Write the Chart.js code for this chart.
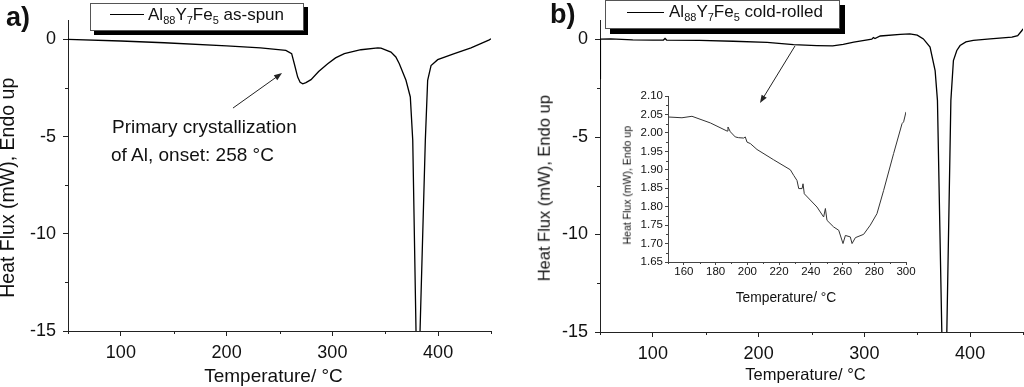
<!DOCTYPE html>
<html><head><meta charset="utf-8">
<script src="https://cdn.jsdelivr.net/npm/chart.js@4.4.1/dist/chart.umd.min.js"></script>
<style>
html,body{margin:0;padding:0;background:#fff;}
#wrap{position:relative;width:1024px;height:387px;overflow:hidden;background:#fff;font-family:"Liberation Sans",Arial,sans-serif;color:#111;}
canvas{position:absolute;}
.t{position:absolute;white-space:nowrap;}
.leg{position:absolute;border:1px solid #555;background:#fff;box-sizing:border-box;}
.leg .ln{position:absolute;height:0;border-top:1.3px solid #000;}
.leg .tx{position:absolute;font-size:17px;line-height:20px;white-space:nowrap;}
.leg sub{font-size:11px;vertical-align:baseline;position:relative;top:4px;}
.rot{position:absolute;transform:rotate(-90deg);text-align:center;white-space:nowrap;}
.ctr{position:absolute;text-align:center;white-space:nowrap;}
</style></head>
<body><div id="wrap">
<canvas id="ca" width="512" height="387" style="left:0;top:0"></canvas>
<canvas id="cb" width="512" height="387" style="left:512px;top:0"></canvas>
<canvas id="ci" width="320" height="230" style="left:600px;top:80px"></canvas>

<div class="t" style="left:6px;top:4px;font-size:27px;line-height:27px;font-weight:bold;">a)</div>
<div class="t" style="left:550px;top:1px;font-size:27px;line-height:27px;font-weight:bold;">b)</div>

<div class="leg" style="left:90px;top:3px;width:214px;height:28px;box-shadow:4px 4px 0 #000;">
  <div class="ln" style="left:19px;top:10px;width:34px;"></div>
  <div class="tx" style="left:57px;top:1px;">Al<sub>88</sub>Y<sub>7</sub>Fe<sub>5</sub> as-spun</div>
</div>
<div class="leg" style="left:605px;top:0px;width:235px;height:29px;box-shadow:5px 5px 0 #000;">
  <div class="ln" style="left:21px;top:11px;width:37px;"></div>
  <div class="tx" style="left:63px;top:0.5px;">Al<sub>88</sub>Y<sub>7</sub>Fe<sub>5</sub> cold-rolled</div>
</div>

<div class="t" style="left:112px;top:117px;font-size:19px;line-height:19px;">Primary crystallization</div>
<div class="t" style="left:111px;top:145px;font-size:19px;line-height:19px;">of Al, onset: 258 °C</div>

<div class="ctr" style="left:173.5px;width:200px;top:366px;font-size:19px;line-height:19px;">Temperature/ °C</div>
<div class="ctr" style="left:705.5px;width:200px;top:365.5px;font-size:16.5px;line-height:16.5px;">Temperature/ °C</div>
<div class="ctr" style="left:686px;width:200px;top:291px;font-size:13.8px;line-height:13.8px;">Temperature/ °C</div>

<div class="rot" style="left:-141.8px;top:177.75px;width:300px;height:19.5px;font-size:19.5px;line-height:19.5px;">Heat Flux (mW), Endo up</div>
<div class="rot" style="left:393.8px;top:179.75px;width:300px;height:16.5px;font-size:16.5px;line-height:16.5px;">Heat Flux (mW), Endo up</div>
<div class="rot" style="left:527.4px;top:179.75px;width:200px;height:10.5px;font-size:10.5px;line-height:10.5px;">Heat Flux (mW), Endo up</div>
</div>
<script>
// ---- data: panel a (as-spun) ----
const tempA = [50,100,141,200,232,256,261.5,264,267.2,269.5,272,275,279.8,287,295.6,303,311.3,327,343,346,355.4,360,363.3,369.6,373.7,376,379.1,380.5,382.9,387.9,390.1,393.3,399.6,415.3,431.1,448.4,450];
const fluxA = [0,-0.08,-0.17,-0.33,-0.43,-0.56,-0.73,-1.25,-1.94,-2.2,-2.28,-2.22,-2.07,-1.65,-1.25,-0.95,-0.73,-0.53,-0.43,-0.45,-0.65,-0.9,-1.25,-2.1,-2.96,-5.19,-15,-19.5,-15,-5.19,-2.1,-1.34,-1.04,-0.73,-0.43,-0.02,0.03];
// ---- data: panel b (cold-rolled) ----
const tempB = [50,50.4,60,81,100,110,111.5,113,144,176,208,233,255,270,280,290,300,307,308.5,310,315,334,343,350,355.8,362.1,366.9,369.1,373.2,375.4,378,381.8,384.2,387.4,390.5,396,403,419,439.5,445,449,450];
const fluxB = [-2.0,0.02,0.03,-0.02,-0.03,-0.03,0.05,-0.03,-0.05,-0.09,-0.15,-0.26,-0.31,-0.33,-0.25,-0.14,-0.05,0.02,0.1,0.05,0.18,0.26,0.29,0.22,0.03,-0.39,-1.59,-3.12,-14.9,-21.9,-14.9,-3.12,-1.08,-0.56,-0.31,-0.12,-0.05,0.03,0.12,0.2,0.46,0.55];
// ---- data: inset (cold-rolled, 150-300 C) ----
const tempIn = [150.4,158.8,165.1,176.7,187.2,187.8,189.3,192.4,194.5,197.7,198.7,199.8,201.9,206.1,216.6,227.1,229.2,231.3,232.4,234.5,235.1,235.9,243.9,248.1,249.2,250.2,254.4,257.6,260.3,261.8,264.9,266,268.1,273.3,277.5,281.7,285.9,292.2,297.5,298.5,300];
const fluxIn = [2.043,2.041,2.045,2.027,2.005,2.016,2.003,1.989,1.987,1.986,1.989,1.975,1.971,1.955,1.927,1.90,1.885,1.871,1.849,1.849,1.862,1.835,1.799,1.772,1.795,1.763,1.745,1.736,1.70,1.722,1.718,1.70,1.716,1.725,1.75,1.781,1.844,1.944,2.025,2.03,2.057];
// ---- ticks ----
const xMajorMain = [100,200,300,400];
const xMinorMain = [50,150,250,350,450];
const yMajorMain = [-15,-10,-5,0];
const yMinorMain = [-12.5,-7.5,-2.5];
const xMajorIn = [160,180,200,220,240,260,280,300];
const xMinorIn = [150,170,190,210,230,250,270,290];
const yMajorIn = [1.65,1.70,1.75,1.80,1.85,1.90,1.95,2.00,2.05,2.10];
const yMinorIn = [1.675,1.725,1.775,1.825,1.875,1.925,1.975,2.025,2.075];
// ---- annotation arrows (data coords) ----
const arrowA = {from:[206,-3.53], to:[252.4,-1.73]};
const arrowB = {from:[234.4,-0.33], to:[201.3,-3.26]};

Chart.defaults.font.family = '"Liberation Sans", Arial, sans-serif';
Chart.defaults.color = '#111';

function pts(xs, ys){ return xs.map((x,i)=>({x:x, y:ys[i]})); }
function fixTicks(arr){ return s => { s.ticks = arr.map(v=>({value:v})); }; }

const minorPlugin = {
  id:'minor',
  afterDraw(chart, args, o){
    const ctx = chart.ctx, xs = chart.scales.x, ys = chart.scales.y, ca = chart.chartArea;
    ctx.save(); ctx.strokeStyle = o.color; ctx.lineWidth = 1;
    o.xv.forEach(v=>{ const p = Math.round(xs.getPixelForValue(v))+0.5;
      ctx.beginPath(); ctx.moveTo(p, ca.bottom); ctx.lineTo(p, ca.bottom+o.len); ctx.stroke(); });
    o.yv.forEach(v=>{ const p = Math.round(ys.getPixelForValue(v))+0.5;
      ctx.beginPath(); ctx.moveTo(ca.left, p); ctx.lineTo(ca.left-o.len, p); ctx.stroke(); });
    ctx.restore();
  }
};
const arrowPlugin = {
  id:'arrows',
  afterDatasetsDraw(chart, args, o){
    if(!o.a) return;
    const ctx = chart.ctx, xs = chart.scales.x, ys = chart.scales.y, a = o.a;
    const x1 = xs.getPixelForValue(a.from[0]), y1 = ys.getPixelForValue(a.from[1]);
    const x2 = xs.getPixelForValue(a.to[0]), y2 = ys.getPixelForValue(a.to[1]);
    const ang = Math.atan2(y2-y1, x2-x1), L = 8, W = 3, c = Math.cos(ang), s = Math.sin(ang);
    ctx.save(); ctx.strokeStyle = '#222'; ctx.fillStyle = '#222'; ctx.lineWidth = 1;
    ctx.beginPath(); ctx.moveTo(x1,y1); ctx.lineTo(x2-L*0.7*c, y2-L*0.7*s); ctx.stroke();
    ctx.beginPath(); ctx.moveTo(x2,y2);
    ctx.lineTo(x2-L*c+W*s, y2-L*s-W*c); ctx.lineTo(x2-L*c-W*s, y2-L*s+W*c); ctx.closePath(); ctx.fill();
    ctx.restore();
  }
};

function mainChart(id, xs, ys, pad, yW, xH, arrow){
  return new Chart(document.getElementById(id), {
    type:'line',
    data:{datasets:[{data:pts(xs,ys), borderColor:'#000', borderWidth:1.3, pointRadius:0, tension:0, fill:false}]},
    options:{
      responsive:false, animation:false, devicePixelRatio:1, events:[],
      layout:{padding:pad},
      plugins:{legend:{display:false}, tooltip:{enabled:false},
        minor:{xv:xMinorMain, yv:yMinorMain, len:3, color:'#222'}, arrows:{a:arrow}},
      scales:{
        x:{type:'linear', min:50, max:450, afterBuildTicks:fixTicks(xMajorMain), afterFit:s=>{s.height=xH;},
           grid:{drawOnChartArea:false, tickLength:5, tickColor:'#222'}, border:{color:'#222'},
           ticks:{font:{size:18}, color:'#111', padding:6, maxRotation:0, autoSkip:false, callback:v=>String(v)}},
        y:{type:'linear', min:-15, max:1, afterBuildTicks:fixTicks(yMajorMain), afterFit:s=>{s.width=yW;},
           grid:{drawOnChartArea:false, tickLength:5, tickColor:'#222'}, border:{color:'#222'},
           ticks:{font:{size:18}, color:'#111', padding:7, autoSkip:false, callback:v=>String(v)}}
      }
    },
    plugins:[minorPlugin, arrowPlugin]
  });
}
mainChart('ca', tempA, fluxA, {left:0,top:20,right:21,bottom:0}, 68, 56, arrowA);
mainChart('cb', tempB, fluxB, {left:0,top:20,right:1,bottom:0}, 88, 55, arrowB);

new Chart(document.getElementById('ci'), {
  type:'line',
  data:{datasets:[{data:pts(tempIn,fluxIn), borderColor:'#333', borderWidth:1, pointRadius:0, tension:0, fill:false}]},
  options:{
    responsive:false, animation:false, devicePixelRatio:1, events:[],
    layout:{padding:{left:0,top:16,right:14,bottom:0}},
    plugins:{legend:{display:false}, tooltip:{enabled:false},
      minor:{xv:xMinorIn, yv:yMinorIn, len:2, color:'#444'}},
    scales:{
      x:{type:'linear', min:150, max:300, afterBuildTicks:fixTicks(xMajorIn), afterFit:s=>{s.height=48;},
         grid:{drawOnChartArea:false, tickLength:3, tickColor:'#444'}, border:{color:'#444'},
         ticks:{font:{size:11.5}, color:'#111', padding:0, maxRotation:0, autoSkip:false, callback:v=>String(v)}},
      y:{type:'linear', min:1.65, max:2.10, afterBuildTicks:fixTicks(yMajorIn), afterFit:s=>{s.width=68;},
         grid:{drawOnChartArea:false, tickLength:3, tickColor:'#444'}, border:{color:'#444'},
         ticks:{font:{size:11.5}, color:'#111', padding:2, autoSkip:false, callback:v=>Number(v).toFixed(2)}}
    }
  },
  plugins:[minorPlugin]
});
</script>
</body></html>
